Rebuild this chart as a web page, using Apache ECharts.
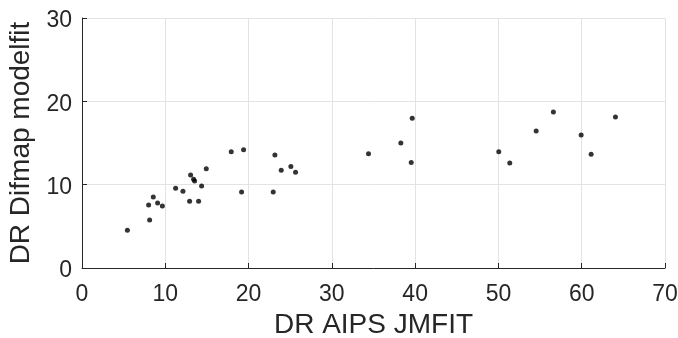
<!DOCTYPE html>
<html>
<head>
<meta charset="utf-8">
<script src="https://cdn.jsdelivr.net/npm/echarts@6/dist/echarts.min.js"></script>
<style>html,body{margin:0;padding:0;background:#fff}#c{width:678px;height:338px}</style>
</head>
<body>
<div id="c"></div>
<script>
const xLabel = "DR AIPS JMFIT";
const yLabel = "DR Difmap modelfit";
const drAips = [5.45, 8.12, 8.0, 8.56, 9.08, 9.65, 11.24, 12.12, 12.92, 13.04, 13.4, 13.52, 14.0, 14.36, 14.92, 17.92, 19.4, 19.16,
  23.16, 22.96, 23.92, 25.08, 25.64, 34.4, 38.28, 39.65, 39.53,
  50.04, 51.36, 54.53, 56.6, 59.93, 61.13, 64.05];
const drDifmap = [4.52, 5.76, 7.56, 8.52, 7.8, 7.44, 9.56, 9.2, 8.0, 11.16, 10.64, 10.44, 8.0, 9.84, 11.92, 13.96, 14.2, 9.12,
  13.56, 9.12, 11.72, 12.17, 11.48, 13.72, 15.0, 17.96, 12.65,
  13.96, 12.6, 16.44, 18.72, 15.96, 13.64, 18.12];
const xTicks = [0, 10, 20, 30, 40, 50, 60, 70];
const yTicks = [0, 10, 20, 30];

const points = drAips.map((x, i) => [x, drDifmap[i]]);
const font = "Liberation Sans, Arial, Helvetica, sans-serif";
const dark = "#262626";
const grid = "#e3e3e3";

const chart = echarts.init(document.getElementById('c'), null, {renderer: 'canvas'});
chart.setOption({
  animation: false,
  backgroundColor: '#fff',
  grid: {left: 82, right: 13, top: 18, bottom: 70, containLabel: false, outerBoundsMode: 'none'},
  xAxis: {
    type: 'value', min: xTicks[0], max: xTicks[xTicks.length - 1], interval: 10,
    name: xLabel, nameLocation: 'middle', nameGap: 42,
    nameTextStyle: {fontFamily: font, fontSize: 28, color: dark},
    axisLine: {show: true, onZero: false, lineStyle: {color: dark, width: 1}},
    axisTick: {show: true, inside: true, length: 5, lineStyle: {color: dark}},
    axisLabel: {fontFamily: font, fontSize: 23, color: dark, margin: 15},
    splitLine: {show: true, lineStyle: {color: grid, width: 1}}
  },
  yAxis: {
    type: 'value', min: yTicks[0], max: yTicks[yTicks.length - 1], interval: 10,
    name: yLabel, nameLocation: 'middle', nameGap: 44,
    nameTextStyle: {fontFamily: font, fontSize: 28, color: dark},
    axisLine: {show: true, onZero: false, lineStyle: {color: dark, width: 1}},
    axisTick: {show: true, inside: true, length: 5, lineStyle: {color: dark}},
    axisLabel: {fontFamily: font, fontSize: 23, color: dark, margin: 10, verticalAlign: 'top', lineHeight: 6},
    splitLine: {show: true, lineStyle: {color: grid, width: 1}}
  },
  series: [{
    type: 'scatter',
    data: points,
    symbol: 'circle',
    symbolSize: 5,
    itemStyle: {color: '#000'}
  }]
});
</script>
</body>
</html>
